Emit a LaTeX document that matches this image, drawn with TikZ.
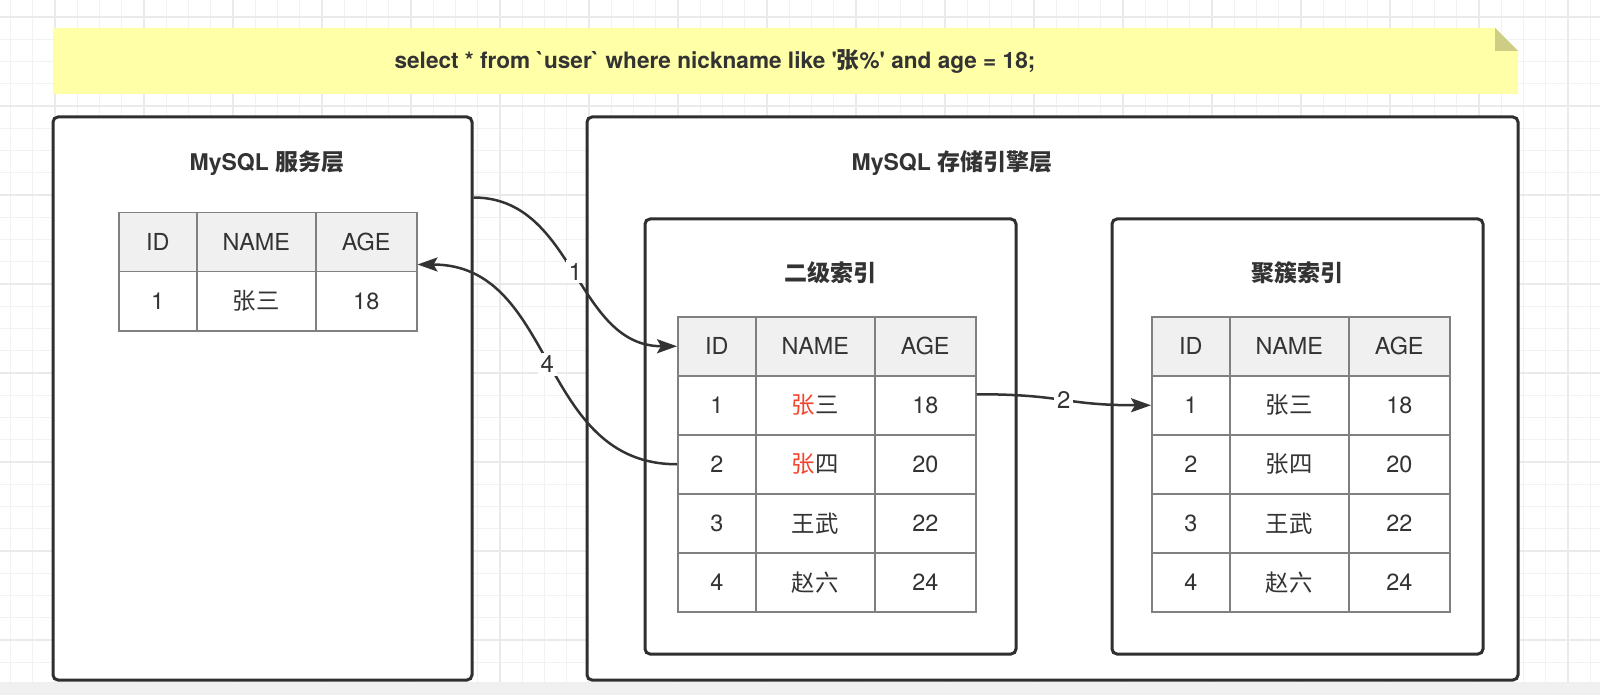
\documentclass[tikz,border=0pt]{standalone}
\usepackage{fontspec}
\setmainfont{TeX Gyre Heros}
\newfontfamily\cjk{Noto Sans CJK SC}
\usetikzlibrary{arrows.meta,calc}
\definecolor{txt}{HTML}{333333}
\definecolor{boxline}{HTML}{2F2F2F}
\definecolor{tblline}{HTML}{808080}
\definecolor{hdrfill}{HTML}{F0F0F0}
\definecolor{zred}{HTML}{F2452E}
\definecolor{notefill}{HTML}{FFFFA8}
\definecolor{notefold}{HTML}{CDCD86}
\definecolor{gridminor}{HTML}{F2F2F2}
\definecolor{gridmajor}{HTML}{EAEAEA}
\definecolor{strip}{HTML}{F0F0F0}
\tikzset{
  boxnode/.style={draw=boxline, line width=1.5pt, rounded corners=2.5pt, fill=white, inner sep=0pt},
  titlefont/.style={font=\fontsize{11.5}{13}\selectfont\bfseries, text=txt},
  cell/.style={draw=tblline, line width=0.75pt, minimum height=29.5pt, inner sep=0pt, anchor=north west, font=\fontsize{11.7}{13}\selectfont, text=txt},
  cA/.style={minimum width=39pt},
  cB/.style={minimum width=59.5pt},
  cC/.style={minimum width=50.5pt},
  conn/.style={draw=txt, line width=1.25pt, -{Stealth[length=10pt,width=7pt,inset=2pt]}},
  lbl/.style={fill=white, inner sep=1.5pt, font=\fontsize{12}{14}\selectfont, text=txt},
}
\begin{document}
\begin{tikzpicture}[x=0.5pt,y=-0.5pt]
\useasboundingbox (0,0) rectangle (1600,695);
\fill[white] (0,0) rectangle (1600,695);
% background grid
\foreach \i in {0,...,71} {\draw[gridminor, line width=0.6pt] ({10.5+22.25*\i},0) -- ({10.5+22.25*\i},682);}
\foreach \i in {0,...,31} {\draw[gridminor, line width=0.6pt] (0,{-5.25+22.25*\i}) -- (1600,{-5.25+22.25*\i});}
\foreach \i in {0,...,17} {\draw[gridmajor, line width=0.9pt] ({55+89*\i},0) -- ({55+89*\i},682);}
\foreach \i in {0,...,7} {\draw[gridmajor, line width=0.9pt] (0,{17+89*\i}) -- (1600,{17+89*\i});}
\fill[strip] (0,682) rectangle (1600,695);
% note
\fill[notefill] (53,28) -- (1495,28) -- (1518,51) -- (1518,94) -- (53,94) -- cycle;
\fill[notefold] (1495,28) -- (1495,51) -- (1518,51) -- cycle;
\node[font=\fontsize{11.3}{13}\selectfont\bfseries, text=txt] (sql) at (715,61)
  {select * from \textasciigrave user\textasciigrave{} where nickname like \textquotesingle{\cjk 张}\%\textquotesingle{} and age = 18;};
% boxes
\node[boxnode, minimum width=209.5pt, minimum height=281.5pt] (L) at (262.5,398.5) {};
\node[boxnode, minimum width=465.5pt, minimum height=281.5pt] (S) at (1052.5,398.5) {};
\node[boxnode, minimum width=185.5pt, minimum height=217.5pt] (B2) at (830.5,436.5) {};
\node[boxnode, minimum width=185.5pt, minimum height=217.5pt] (B3) at (1297.5,436.5) {};
% titles
\node[titlefont] (tL) at (267,163) {MySQL {\cjk 服务层}};
\node[titlefont] (tS) at (952,163) {MySQL {\cjk 存储引擎层}};
\node[titlefont] (tB2) at (830,273) {\cjk 二级索引};
\node[titlefont] (tB3) at (1297,273) {\cjk 聚簇索引};
% table in service layer
\foreach \r/\fc/\va/\vb/\vc in {0/hdrfill/ID/NAME/AGE, 1/white/1/{\cjk 张三}/18} {
  \node[cell,cA,fill=\fc] (A-\r-1) at (118,{212+59*\r}) {\va};
  \node[cell,cB,fill=\fc] (A-\r-2) at (196,{212+59*\r}) {\vb};
  \node[cell,cC,fill=\fc] (A-\r-3) at (315,{212+59*\r}) {\vc};
}
% secondary index table
\foreach \r/\fc/\va/\vb/\vc in {0/hdrfill/ID/NAME/AGE, 1/white/1/{\cjk\textcolor{zred}{张}三}/18, 2/white/2/{\cjk\textcolor{zred}{张}四}/20, 3/white/3/{\cjk 王武}/22, 4/white/4/{\cjk 赵六}/24} {
  \node[cell,cA,fill=\fc] (B-\r-1) at (677,{316+59*\r}) {\va};
  \node[cell,cB,fill=\fc] (B-\r-2) at (755,{316+59*\r}) {\vb};
  \node[cell,cC,fill=\fc] (B-\r-3) at (874,{316+59*\r}) {\vc};
}
% clustered index table
\foreach \r/\fc/\va/\vb/\vc in {0/hdrfill/ID/NAME/AGE, 1/white/1/{\cjk 张三}/18, 2/white/2/{\cjk 张四}/20, 3/white/3/{\cjk 王武}/22, 4/white/4/{\cjk 赵六}/24} {
  \node[cell,cA,fill=\fc] (C-\r-1) at (1151,{316+59*\r}) {\va};
  \node[cell,cB,fill=\fc] (C-\r-2) at (1229,{316+59*\r}) {\vb};
  \node[cell,cC,fill=\fc] (C-\r-3) at (1348,{316+59*\r}) {\vc};
}
% connectors
\draw[conn] ([yshift=-41pt]L.north east) .. controls +(102,0) and +(-102,0) .. (B-0-1.west)
  node[lbl, pos=0.5] {1};
\draw[conn] (B-1-3.east) ++(0,-11) coordinate (s2) (s2) .. controls +(88,0) and +(-88,0) .. (C-1-1.west)
  node[lbl, pos=0.5] {2};
\draw[conn] (B-2-1.west) .. controls +(-140,0) and +(140,0) .. ([yshift=4pt]A-0-3.south east)
  node[lbl, pos=0.5] {4};
\end{tikzpicture}
\end{document}
